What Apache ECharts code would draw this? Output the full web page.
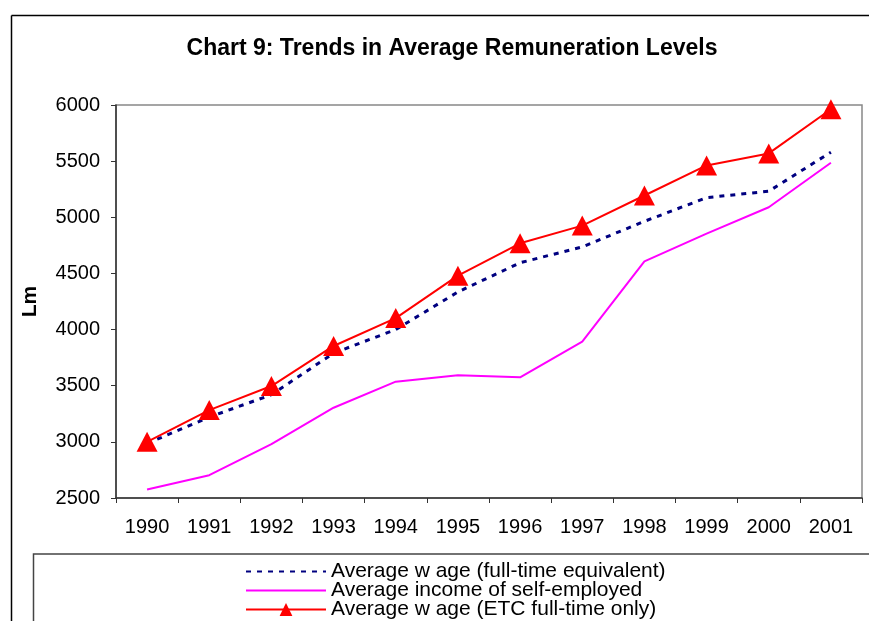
<!DOCTYPE html>
<html>
<head>
<meta charset="utf-8">
<script src="https://cdn.jsdelivr.net/npm/echarts@6/dist/echarts.min.js"></script>
<style>
html,body{margin:0;padding:0;background:#fff;}
#chart{width:869px;height:621px;}
</style>
</head>
<body>
<div id="chart"></div>
<script>
const categories = ['1990','1991','1992','1993','1994','1995','1996','1997','1998','1999','2000','2001'];
const avgWageFTE = [2985, 3220, 3420, 3790, 4000, 4335, 4595, 4736, 4964, 5175, 5232, 5580];
const avgSelfEmployed = [2575, 2703, 2980, 3304, 3536, 3593, 3575, 3893, 4607, 4854, 5089, 5486];
const avgWageETC = [3000, 3283, 3497, 3854, 4102, 4480, 4768, 4926, 5194, 5462, 5569, 5962];
const seriesNames = ['Average w age (full-time equivalent)', 'Average income of self-employed', 'Average w age (ETC full-time only)'];
const titleText = 'Chart 9: Trends in Average Remuneration Levels';
const yAxisName = 'Lm';

const chart = echarts.init(document.getElementById('chart'), null, {renderer:'canvas'});
const font = 'Arial, "Liberation Sans", sans-serif';
const legendTops = [556, 575, 594];
const legendIconStyles = [{opacity: 0}, {opacity: 0}, {}];
const legends = seriesNames.map((n, i) => ({
  orient: 'vertical', left: 240, top: legendTops[i],
  itemWidth: 80, itemHeight: 16, itemGap: 0,
  textStyle: {fontFamily: font, fontSize: 21, color: '#000', lineHeight: 20},
  data: [{name: n, itemStyle: legendIconStyles[i]}]
}));
chart.setOption({
  animation: false,
  backgroundColor: '#fff',
  title: {
    text: titleText,
    left: 447, top: 32, textAlign: 'center',
    textStyle: {fontFamily: font, fontSize: 23, fontWeight: 'bold', color: '#000'}
  },
  grid: {left: 116, right: 7, top: 105, bottom: 123, show: true, borderColor: '#888', borderWidth: 1.5, backgroundColor: '#fff'},
  legend: legends,
  xAxis: {
    type: 'category', data: categories, boundaryGap: true,
    axisLine: {lineStyle: {color: '#333', width: 1.5}},
    axisTick: {show: true, length: 5, lineStyle: {color: '#333'}},
    axisLabel: {fontFamily: font, fontSize: 20, color: '#000', margin: 19}
  },
  yAxis: {
    type: 'value', min: 2500, max: 6000, interval: 500,
    name: yAxisName, nameLocation: 'middle', nameGap: 75, nameRotate: 90,
    nameTextStyle: {fontFamily: font, fontSize: 21, fontWeight: 'bold', color: '#000'},
    axisLine: {show: true, lineStyle: {color: '#333', width: 1.5}},
    axisTick: {show: true, length: 5, lineStyle: {color: '#333'}},
    axisLabel: {fontFamily: font, fontSize: 20, color: '#000', margin: 16, formatter: v => String(v)},
    splitLine: {show: false}
  },
  series: [
    {name: seriesNames[0], type: 'line', data: avgWageFTE, symbol: 'none',
     lineStyle: {color: '#000080', width: 3, type: [5, 6]}, itemStyle: {color: '#000080'}, z: 2},
    {name: seriesNames[1], type: 'line', data: avgSelfEmployed, symbol: 'none',
     lineStyle: {color: '#FF00FF', width: 2}, itemStyle: {color: '#FF00FF'}, z: 3},
    {name: seriesNames[2], type: 'line', data: avgWageETC, symbol: 'triangle', symbolSize: [21, 20],
     lineStyle: {color: '#FF0000', width: 2}, itemStyle: {color: '#FF0000'}, z: 4}
  ],
  graphic: [
    {type: 'line', shape: {x1: 11.5, y1: 15.5, x2: 869, y2: 15.5}, style: {stroke: '#000', lineWidth: 1.5}, silent: true},
    {type: 'line', shape: {x1: 11.5, y1: 15.5, x2: 11.5, y2: 621}, style: {stroke: '#000', lineWidth: 1.5}, silent: true},
    {type: 'rect', shape: {x: 33.5, y: 554, width: 850, height: 100}, style: {fill: 'none', stroke: '#444', lineWidth: 1.5}, silent: true, z: -1}
  ]
});
</script>
</body>
</html>
